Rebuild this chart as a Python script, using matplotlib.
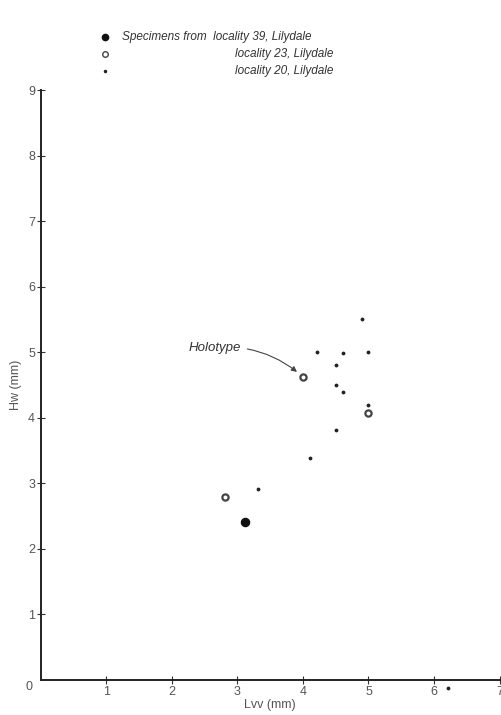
import matplotlib.pyplot as plt

# locality 39 (filled), locality 23 (open), locality 20 (small dots)
x39 = [3.11]
y39 = [2.41]
x23 = [2.82, 4.0, 5.0]
y23 = [2.79, 4.62, 4.07]
x20 = [3.31, 4.11, 4.21, 4.5, 4.5, 4.5, 4.61, 4.61, 4.9, 5.0, 5.0, 6.21]
y20 = [2.91, 3.38, 5.0, 4.8, 4.5, 3.81, 4.99, 4.4, 5.51, 5.0, 4.19, -0.13]

xticks = [1, 2, 3, 4, 5, 6, 7]
yticks = [1, 2, 3, 4, 5, 6, 7, 8, 9]

grey = '#555555'
plt.rcParams['font.family'] = ['Liberation Sans', 'DejaVu Sans']

fig = plt.figure(figsize=(5.02, 7.15), dpi=100)
ax = fig.add_axes([0.0807, 0.049, 0.9147, 0.825])
ax.set_xlim(0, 7)
ax.set_ylim(0, 9)

for s in ['top', 'right']:
    ax.spines[s].set_visible(False)
for s in ['left', 'bottom']:
    ax.spines[s].set_linewidth(1.4)
    ax.spines[s].set_color('#222222')

ax.scatter(x20, y20, s=3, color='#222222', clip_on=False, zorder=3)
ax.scatter(x23, y23, s=20, facecolor='white', edgecolor='#444444',
           linewidth=1.6, clip_on=False, zorder=3)
ax.scatter(x39, y39, s=34, color='#111111', clip_on=False, zorder=3)

ax.set_xticks(xticks)
ax.set_yticks(yticks)
ax.tick_params(direction='inout', length=6, width=0.8, color='#333333',
               labelsize=9, labelcolor=grey, pad=1)
ax.text(-0.12, -0.1, '0', ha='right', va='center', fontsize=9, color=grey)

ax.set_xlabel('Lvv (mm)', fontsize=9, color=grey, labelpad=1)
ax.set_ylabel('Hw (mm)', fontsize=9, color=grey, labelpad=4)

ax.annotate('Holotype', xy=(3.91, 4.70), xytext=(2.25, 5.07),
            fontsize=9.5, style='italic', color='#333333',
            ha='left', va='center',
            arrowprops=dict(arrowstyle='-|>', color='#444444', lw=0.8,
                            connectionstyle='arc3,rad=-0.2',
                            shrinkA=3, shrinkB=0, mutation_scale=8))

# legend drawn as figure text
fx = lambda px: px / 502
fy = lambda py: 1 - py / 715
legend_rows = [
    ('o', 'Specimens from  locality 39, Lilydale', 122),
    ('c', 'locality 23, Lilydale', 235),
    ('.', 'locality 20, Lilydale', 235),
]
row_y = [37, 54, 71]
for (m, label, tx), py in zip(legend_rows, row_y):
    if m == 'o':
        fig.lines.append(plt.Line2D([fx(105)], [fy(py)], marker='o', ms=4.5,
                                    color='#111111', transform=fig.transFigure))
    elif m == 'c':
        fig.lines.append(plt.Line2D([fx(105)], [fy(py)], marker='o', ms=4,
                                    mfc='white', mec='#444444', mew=1.0,
                                    transform=fig.transFigure))
    else:
        fig.lines.append(plt.Line2D([fx(105)], [fy(py)], marker='o', ms=1.5,
                                    color='#222222', transform=fig.transFigure))
    fig.text(fx(tx), fy(py), label, fontsize=8.5, style='italic',
             color='#333333', ha='left', va='center')

fig.savefig('out.png', dpi=100)
